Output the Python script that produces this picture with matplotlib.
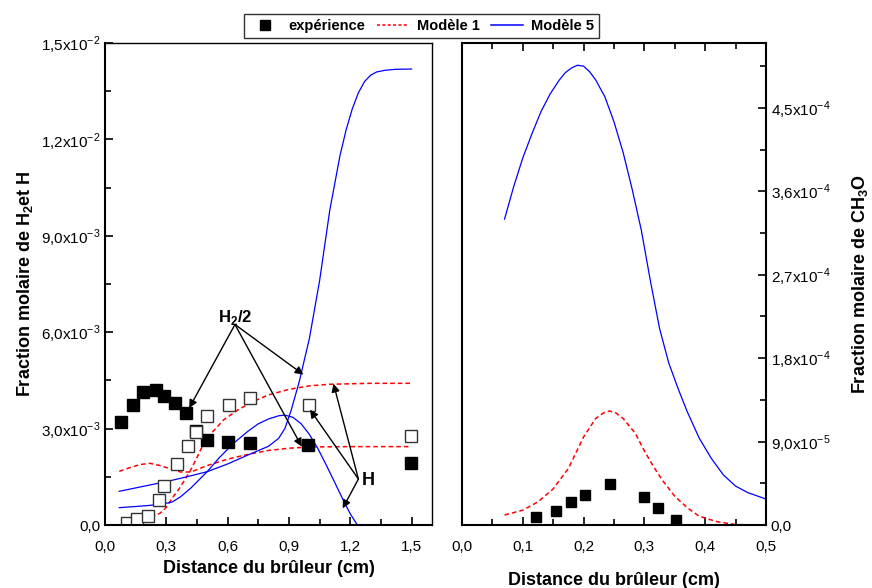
import numpy as np
import matplotlib
matplotlib.use('Agg')
import matplotlib.pyplot as plt
from matplotlib.ticker import MultipleLocator, FuncFormatter
from matplotlib.lines import Line2D

plt.rcParams['font.family'] = 'Liberation Sans'
plt.rcParams['mathtext.fontset'] = 'custom'
plt.rcParams['mathtext.rm'] = 'Liberation Sans'
plt.rcParams['mathtext.bf'] = 'Liberation Sans:bold'

RED = '#ff0000'
BLUE = '#0000ff'

# ---- left panel: H2/2 and H ----
h2_exp_x = [0.078, 0.137, 0.186, 0.25, 0.29, 0.343, 0.396, 0.444, 0.499, 0.604, 0.708, 0.995, 1.496]
h2_exp_y = [3.21, 3.74, 4.15, 4.2, 4.02, 3.8, 3.49, 2.94, 2.65, 2.58, 2.56, 2.5, 1.92]
h_exp_x = [0.106, 0.158, 0.212, 0.263, 0.29, 0.354, 0.408, 0.445, 0.499, 0.605, 0.71, 0.997, 1.498]
h_exp_y = [0.07, 0.18, 0.28, 0.77, 1.22, 1.91, 2.47, 2.89, 3.39, 3.74, 3.96, 3.74, 2.78]

h2_m1_x = [0.07, 0.12, 0.17, 0.22, 0.27, 0.32, 0.37, 0.42, 0.5, 0.6, 0.7, 0.8, 0.9, 1.0, 1.2, 1.5]
h2_m1_y = [1.67, 1.78, 1.88, 1.92, 1.85, 1.75, 1.65, 1.65, 1.85, 2.05, 2.2, 2.32, 2.39, 2.43, 2.44, 2.44]
h_m1_x = [0.08, 0.14, 0.19, 0.23, 0.27, 0.3, 0.33, 0.36, 0.39, 0.42, 0.45, 0.48, 0.52, 0.58, 0.65, 0.72, 0.8, 0.9, 1.0, 1.1, 1.3, 1.5]
h_m1_y = [0.02, 0.08, 0.16, 0.25, 0.37, 0.55, 0.85, 1.1, 1.4, 1.72, 2.1, 2.5, 2.85, 3.27, 3.58, 3.83, 4.05, 4.22, 4.33, 4.38, 4.41, 4.41]

h2_m5_x = [0.07, 0.2, 0.3, 0.4, 0.5, 0.6, 0.7, 0.8, 0.85, 0.88, 0.91, 0.95, 1.0, 1.05, 1.1, 1.15, 1.18,
           1.21, 1.24, 1.27, 1.3, 1.33, 1.37, 1.42, 1.5]
h2_m5_y = [1.05, 1.22, 1.35, 1.5, 1.66, 1.9, 2.18, 2.45, 2.7, 3.0, 3.55, 4.45, 5.8, 7.6, 9.8, 11.5, 12.3,
           12.95, 13.45, 13.8, 14.0, 14.1, 14.15, 14.18, 14.19]
h_m5_x = [0.07, 0.2, 0.28, 0.33, 0.37, 0.42, 0.5, 0.56, 0.63, 0.7, 0.75, 0.8, 0.85, 0.88, 0.92, 0.96, 1.0, 1.04, 1.08, 1.12, 1.16, 1.2, 1.235]
h_m5_y = [0.54, 0.6, 0.65, 0.72, 0.88, 1.15, 1.66, 2.1, 2.55, 2.92, 3.15, 3.3, 3.4, 3.42, 3.35, 3.15, 2.82, 2.4, 1.9, 1.38, 0.85, 0.35, 0.0]

# ---- right panel: CH3O ----
ch3o_exp_x = [0.122, 0.154, 0.18, 0.202, 0.243, 0.3, 0.323, 0.352]
ch3o_exp_y = [0.83, 1.51, 2.45, 3.2, 4.42, 3.02, 1.8, 0.54]   # x1e-5
ch3o_m1_x = [0.07, 0.1, 0.125, 0.15, 0.175, 0.2, 0.22, 0.233, 0.243, 0.253, 0.265, 0.285, 0.3, 0.315, 0.33,
             0.35, 0.37, 0.39, 0.42, 0.45, 0.5]
ch3o_m1_y = [1.08, 1.6, 2.5, 3.9, 6.1, 9.5, 11.5, 12.1, 12.3, 12.1, 11.5, 9.9, 8.0, 6.3, 4.8,
             3.1, 1.9, 0.95, 0.35, 0.05, 0.0]  # x1e-5
ch3o_m5_x = [0.07, 0.085, 0.1, 0.115, 0.13, 0.145, 0.16, 0.17, 0.18, 0.19, 0.2, 0.21, 0.22, 0.235, 0.25,
             0.265, 0.28, 0.295, 0.31, 0.325, 0.34, 0.355, 0.37, 0.39, 0.41, 0.43, 0.45, 0.47, 0.5]
ch3o_m5_y = [3.30, 3.65, 3.96, 4.22, 4.46, 4.65, 4.80, 4.88, 4.93, 4.96, 4.95, 4.89, 4.80, 4.62, 4.35,
             4.02, 3.62, 3.18, 2.63, 2.12, 1.75, 1.48, 1.23, 0.94, 0.72, 0.54, 0.42, 0.35, 0.28]  # x1e-4


def sci_fmt(v, pos):
    if abs(v) < 1e-12:
        return '0,0'
    e = int(np.floor(np.log10(abs(v)) + 1e-9))
    m = v / 10.0 ** e
    return f'{m:.1f}'.replace('.', ',') + 'x10$^{' + str(e) + '}$'


def dec_fmt(v, pos):
    return f'{v:.1f}'.replace('.', ',')


fig = plt.figure(figsize=(8.72, 5.88), dpi=100)
ax1 = fig.add_axes([0.1204, 0.1071, 0.375, 0.8198])
ax2 = fig.add_axes([0.5298, 0.1071, 0.3486, 0.8198])

# left panel
ax1.plot(h2_m1_x, np.array(h2_m1_y) * 1e-3, color=RED, ls='--', lw=1.1, dashes=(3, 2))
ax1.plot(h_m1_x, np.array(h_m1_y) * 1e-3, color=RED, ls='--', lw=1.1, dashes=(3, 2))
ax1.plot(h2_m5_x, np.array(h2_m5_y) * 1e-3, color=BLUE, lw=0.9)
ax1.plot(h_m5_x, np.array(h_m5_y) * 1e-3, color=BLUE, lw=0.9)
ax1.plot(h2_exp_x, np.array(h2_exp_y) * 1e-3, 's', color='black', ms=8, ls='none')
ax1.plot(h_exp_x, np.array(h_exp_y) * 1e-3, 's', mfc='white', mec='#333333', mew=1.0, ms=8, ls='none')

ax1.set_xlim(0, 1.6)
ax1.set_ylim(0, 0.015)
ax1.xaxis.set_major_locator(MultipleLocator(0.3))
ax1.xaxis.set_minor_locator(MultipleLocator(0.15))
ax1.yaxis.set_major_locator(MultipleLocator(0.003))
ax1.yaxis.set_minor_locator(MultipleLocator(0.0015))
ax1.xaxis.set_major_formatter(FuncFormatter(dec_fmt))
ax1.yaxis.set_major_formatter(FuncFormatter(sci_fmt))
ax1.tick_params(which='both', direction='in', labelsize=11, width=1.2)
ax1.tick_params(which='major', length=6)
ax1.tick_params(which='minor', length=4)
ax1.tick_params(axis='x', pad=11)
for s in ax1.spines.values():
    s.set_linewidth(1.0)
ax1.spines['left'].set_linewidth(1.5)
ax1.spines['bottom'].set_linewidth(1.5)
ax1.set_xlabel('Distance du brûleur (cm)', fontsize=13, fontweight='bold', labelpad=4)
ax1.set_ylabel('Fraction molaire de H$_\\mathbf{2}$et H', fontsize=13, fontweight='bold', labelpad=4)

# annotations
arrow = dict(arrowstyle='-|>', color='black', lw=1.0, mutation_scale=12, shrinkA=0, shrinkB=0)
ax1.text(0.636, 6.45e-3, 'H$_\\mathbf{2}$/2', fontsize=12, fontweight='bold', ha='center', va='center')
for tx, ty in [(0.412, 3.64e-3), (0.971, 4.68e-3), (0.963, 2.44e-3)]:
    ax1.annotate('', xy=(tx, ty), xytext=(0.636, 6.24e-3), arrowprops=arrow)
ax1.text(1.255, 1.4e-3, 'H', fontsize=13, fontweight='bold', ha='left', va='center')
for tx, ty in [(1.118, 4.4e-3), (1.003, 3.59e-3), (1.163, 0.52e-3)]:
    ax1.annotate('', xy=(tx, ty), xytext=(1.24, 1.43e-3), arrowprops=arrow)

# right panel
ax2.plot(ch3o_m1_x, np.array(ch3o_m1_y) * 1e-5, color=RED, ls='--', lw=1.1, dashes=(3, 2))
ax2.plot(ch3o_m5_x, np.array(ch3o_m5_y) * 1e-4, color=BLUE, lw=0.9)
ax2.plot(ch3o_exp_x, np.array(ch3o_exp_y) * 1e-5, 's', color='black', ms=7, ls='none')

ax2.set_xlim(0, 0.5)
ax2.set_ylim(0, 5.2e-4)
ax2.xaxis.set_major_locator(MultipleLocator(0.1))
ax2.xaxis.set_minor_locator(MultipleLocator(0.05))
ax2.yaxis.set_major_locator(MultipleLocator(9e-5))
ax2.yaxis.set_minor_locator(MultipleLocator(4.5e-5))
ax2.xaxis.set_major_formatter(FuncFormatter(dec_fmt))
ax2.yaxis.set_major_formatter(FuncFormatter(sci_fmt))
ax2.yaxis.tick_right()
ax2.yaxis.set_label_position('right')
ax2.tick_params(which='both', direction='in', labelsize=11, width=1.2, top=True)
ax2.tick_params(which='major', length=6)
ax2.tick_params(which='minor', length=4)
ax2.tick_params(axis='x', pad=11)
for s in ax2.spines.values():
    s.set_linewidth(1.5)
ax2.set_xlabel('Distance du brûleur (cm)', fontsize=13, fontweight='bold', labelpad=13)
ax2.set_ylabel('Fraction molaire de CH$_\\mathbf{3}$O', fontsize=13, fontweight='bold', labelpad=14,
               rotation=90)

# legend on top
handles = [Line2D([], [], marker='s', color='black', ls='none', ms=7),
           Line2D([], [], color=RED, ls='--', lw=1.1, dashes=(2, 1.5)),
           Line2D([], [], color=BLUE, lw=1.1)]
labels = ['expérience', 'Modèle 1', 'Modèle 5']
leg = fig.legend(handles, labels, loc='center', bbox_to_anchor=(421.5 / 872, 1 - 26 / 588), ncol=3,
                 frameon=True, fancybox=False, edgecolor='black', handlelength=2.2, columnspacing=0.8,
                 handletextpad=0.5, borderpad=0.35, prop={'weight': 'bold', 'size': 10.5})
leg.get_frame().set_linewidth(1.0)

fig.savefig('out.png', dpi=100)
